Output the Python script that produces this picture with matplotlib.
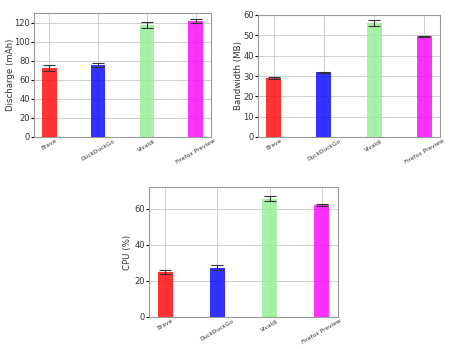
import numpy as np
import matplotlib.pyplot as plt

browsers = ['Brave', 'DuckDuckGo', 'Vivaldi', 'Firefox Preview']
colors = ['red', 'blue', 'lightgreen', 'magenta']

discharge = [72.5, 75.5, 117.5, 121.5]
discharge_err = [3.5, 1.8, 3.0, 2.0]
bandwidth = [29.0, 31.8, 56.0, 49.6]
bandwidth_err = [0.6, 0.3, 1.6, 0.2]
cpu = [25.0, 27.4, 65.6, 62.0]
cpu_err = [1.0, 1.3, 1.5, 0.5]


def bar_plot(ax, values, errs, ylabel, ylim, yticks, labelx):
    x = np.arange(len(browsers))
    ax.bar(x, values, 0.3, yerr=errs, color=colors, alpha=0.8,
           capsize=4, error_kw=dict(elinewidth=0.8, capthick=0.8, ecolor='#333333'), zorder=3)
    ax.set_xticks(x)
    ax.set_xticklabels(browsers, rotation=30, fontsize=4.2)
    ax.set_yticks(yticks)
    ax.tick_params(axis='y', labelsize=6, length=2, pad=1, labelcolor='#333333')
    ax.tick_params(axis='x', length=0, pad=1, labelcolor='#333333')
    ax.set_ylabel(ylabel, fontsize=6.2, color='#333333')
    ax.yaxis.set_label_coords(labelx, 0.5)
    ax.grid(True, color='#c8c8c8', linewidth=0.6, zorder=0)
    for s in ax.spines.values():
        s.set_color('#999999')
    ax.set_ylim(*ylim)


fig = plt.figure(figsize=(4.61, 3.49), dpi=100)
ax1 = fig.add_axes([34 / 461, 1 - 137 / 349, 177 / 461, 124 / 349])
ax2 = fig.add_axes([258 / 461, 1 - 137 / 349, 182 / 461, 122 / 349])
ax3 = fig.add_axes([149 / 461, 1 - 317 / 349, 189 / 461, 130 / 349])

bar_plot(ax1, discharge, discharge_err, 'Discharge (mAh)', (0, 130), range(0, 121, 20), -0.11)
bar_plot(ax2, bandwidth, bandwidth_err, 'Bandwidth (MB)', (0, 60), range(0, 61, 10), -0.08)
bar_plot(ax3, cpu, cpu_err, 'CPU (%)', (0, 72), [0, 20, 40, 60], -0.09)

fig.savefig('out.png', dpi=100)
